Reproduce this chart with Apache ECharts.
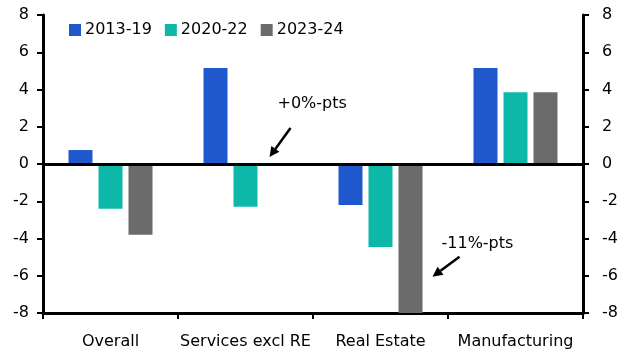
<!DOCTYPE html>
<html><head><meta charset="utf-8">
<script src="https://cdn.jsdelivr.net/npm/echarts@6/dist/echarts.min.js"></script>
<style>html,body{margin:0;padding:0;background:#fff}#c{width:630px;height:355px}</style>
</head><body><div id="c"></div>
<script>
var categories = ['Overall', 'Services excl RE', 'Real Estate', 'Manufacturing'];
var seriesNames = ['2013-19', '2020-22', '2023-24'];
var s2013_19 = [0.75, 5.15, -2.2, 5.15];
var s2020_22 = [-2.4, -2.3, -4.45, 3.85];
var s2023_24 = [-3.8, 0, -11, 3.85];
var yTicks = [-8, -6, -4, -2, 0, 2, 4, 6, 8];
var annotations = [
  { text: '+0%-pts', category: 'Services excl RE', value: 0 },
  { text: '-11%-pts', category: 'Real Estate', value: -6 }
];

var colors = ['#1f58cc', '#0db8a9', '#6b6b6b'];
var FONT = 'DejaVu Sans';
var chart = echarts.init(document.getElementById('c'), null, {renderer: 'canvas'});

function yAxisCfg(pos) {
  return {
    type: 'value', position: pos, min: yTicks[0], max: yTicks[yTicks.length - 1], interval: 2,
    axisLine: { show: true, lineStyle: { color: '#000', width: 3 } },
    axisTick: { show: true, length: 6, lineStyle: { color: '#000', width: 2 } },
    axisLabel: { color: '#000', fontSize: 16, fontFamily: FONT, margin: pos === 'left' ? 14 : 19 },
    splitLine: { show: false }
  };
}

var data = [s2013_19, s2020_22, s2023_24];
var series = seriesNames.map(function (n, i) {
  var s = {
    name: n, type: 'bar', data: data[i], barWidth: 24, barGap: '25%',
    itemStyle: { color: colors[i] }, clip: true, yAxisIndex: 0
  };
  if (i === 0) {
    s.markLine = {
      silent: true, symbol: 'none', label: { show: false },
      lineStyle: { color: '#000', width: 3, type: 'solid' },
      data: [{ yAxis: 0 }]
    };
  }
  return s;
});

chart.setOption({
  animation: false,
  textStyle: { fontFamily: FONT },
  grid: { left: 43, right: 47, top: 15, bottom: 42, containLabel: false },
  legend: {
    left: 64, top: 17, itemWidth: 12, itemHeight: 12, itemGap: 13,
    icon: 'rect',
    textStyle: { color: '#000', fontSize: 16, fontFamily: FONT, padding: [0, 0, 0, -1] },
    data: seriesNames
  },
  xAxis: {
    type: 'category', data: categories, position: 'bottom',
    axisLine: { onZero: false, lineStyle: { color: '#000', width: 3 } },
    axisTick: { show: true, length: 6, alignWithLabel: false, lineStyle: { color: '#000', width: 2 } },
    axisLabel: { color: '#000', fontSize: 16, fontFamily: FONT, margin: 21, interval: 0 }
  },
  yAxis: [yAxisCfg('left'), yAxisCfg('right')],
  series: series
});

function arrow(x1, y1, x2, y2) {
  var dx = x2 - x1, dy = y2 - y1, L = Math.sqrt(dx * dx + dy * dy);
  var ux = dx / L, uy = dy / L, hl = 10, hw = 5;
  var bx = x2 - ux * hl, by = y2 - uy * hl;
  return [
    { type: 'line', shape: { x1: x1, y1: y1, x2: bx, y2: by }, style: { stroke: '#000', lineWidth: 2.5 } },
    { type: 'polygon', shape: { points: [[x2, y2], [bx - uy * hw, by + ux * hw], [bx + uy * hw, by - ux * hw]] }, style: { fill: '#000' } }
  ];
}

var g = [];
var a1x = chart.convertToPixel({ xAxisIndex: 0 }, annotations[0].category);
var a1y = chart.convertToPixel({ yAxisIndex: 0 }, annotations[0].value);
g.push({ type: 'text', left: a1x + 32, top: a1y - 68, style: { text: annotations[0].text, font: '16px "' + FONT + '"', fill: '#000' } });
g = g.concat(arrow(a1x + 45, a1y - 36, a1x + 24, a1y - 7));
var a2x = chart.convertToPixel({ xAxisIndex: 0 }, annotations[1].category);
var a2y = chart.convertToPixel({ yAxisIndex: 0 }, annotations[1].value);
g.push({ type: 'text', left: a2x + 61, top: a2y - 40, style: { text: annotations[1].text, font: '16px "' + FONT + '"', fill: '#000' } });
g = g.concat(arrow(a2x + 79, a2y - 19, a2x + 52, a2y + 1));
chart.setOption({ graphic: g });
</script>
</body></html>
